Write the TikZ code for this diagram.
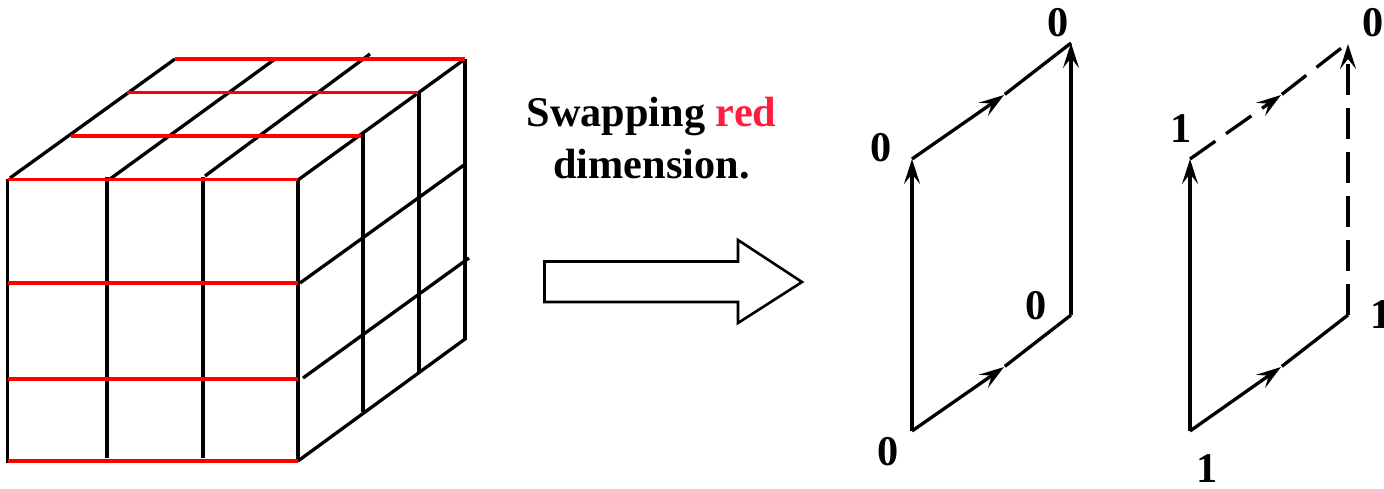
\documentclass[tikz,border=0pt]{standalone}
\usepackage{fontspec}
\setmainfont{Liberation Serif}
\usetikzlibrary{arrows.meta}
\definecolor{MainRed}{RGB}{255,0,0}
\definecolor{WordRed}{RGB}{255,28,62}
\tikzset{
  >={Stealth[length=25,width=16,inset=10]},
  % Griglia del cubo
  cube line/.style={line width=3.3,black},
  cube red/.style={line width=3.5,MainRed},
  % Facce a destra
  face line/.style={line width=3.3,black},
  face arrow/.style={face line,->},
  face dash/.style={face line,dash pattern=on 31 off 13},
  tag/.style={font=\fontsize{42.3}{52}\selectfont\bfseries,inner sep=0},
  swap arrow/.style={line width=2.6,black,line join=miter}
}
\begin{document}
\begin{tikzpicture}[x=1pt,y=-1pt]
    \useasboundingbox (0,0) rectangle (1384,488);
    % cubo, nero
    \draw[cube line] (7.5,179)--(7.5,463);
    \draw[cube line] (298,179)--(298,461);
    \foreach \x in {107,203}
      \draw[cube line] (\x,177)--(\x,458);
    \draw[cube line] (10,178)--(175,59);
    \draw[cube line] (110,179)--(275,59);
    \draw[cube line] (205,176)--(370,54);
    \draw[cube line] (298,180)--(465,59);
    \draw[cube line] (363,133)--(363,412);
    \draw[cube line] (419,92)--(419,373);
    \draw[cube line] (465,59)--(465,340);
    \draw[cube line] (298,461)--(465,339);
    \draw[cube line] (300,283)--(464,165);
    \draw[cube line] (303,378)--(469,258);
    % cubo, rosso
    \foreach \y in {179.5,283,379,461}
      \draw[cube red] (7.5,\y)--(298,\y);
    \draw[cube red] (175,59)--(465,59);
    \draw[cube red] (127,92.5)--(418,92.5);
    \draw[cube red] (71,136)--(361,136);
    % testo e freccia
    \node[tag,align=center] (swap text) at (651.5,138.5) {Swapping \textcolor{WordRed}{red}\\dimension.};
    \draw[swap arrow] (544.5,261.5)--(738,261.5)--(738,240)--(802,282)--(738,323)--(738,302)--(544.5,302)--cycle;
    % prima faccia
    \coordinate (a1) at (912,431);
    \coordinate (a2) at (912,159);
    \coordinate (a3) at (1071,43);
    \coordinate (a4) at (1071,315);
    \coordinate (a12) at (1004,367);
    \coordinate (a34) at (1004,95);
    \draw[face arrow] (a1)--(a2);
    \draw[face arrow] (a4)--(a3);
    \draw[face arrow] (a1)--(a12);
    \draw[face line,shorten <=1] (a12)--(a4);
    \draw[face arrow] (a2)--(a34);
    \draw[face line,shorten <=1] (a34)--(a3);
    \node[tag] (a1 tag) at (888,452) {0};
    \node[tag] (a2 tag) at (881,148) {0};
    \node[tag] (a3 tag) at (1058,23) {0};
    \node[tag] (a4 tag) at (1036,306) {0};
    % seconda faccia
    \coordinate (b1) at (1190,431);
    \coordinate (b2) at (1190,159);
    \coordinate (b3) at (1348,44);
    \coordinate (b4) at (1348,315);
    \coordinate (b5) at (1342,47.5);
    \coordinate (b12) at (1281,367);
    \coordinate (b34) at (1281,95);
    \draw[face arrow] (b1)--(b2);
    \draw[face dash,->] (b4)--(b3);
    \draw[face arrow] (b1)--(b12);
    \draw[face line,shorten <=1] (b12)--(b4);
    \draw[face dash,->] (b2)--(b34);
    \draw[face dash,shorten <=1] (b34)--(b5);
    \node[tag] (b1 tag) at (1207,468.5) {1};
    \node[tag] (b2 tag) at (1181,129) {1};
    \node[tag] (b3 tag) at (1373,23) {0};
    \node[tag] (b4 tag) at (1381,315) {1};
\end{tikzpicture}
\end{document}
